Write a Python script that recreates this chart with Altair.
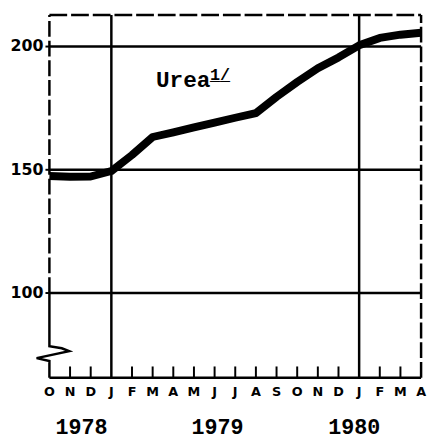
import altair as alt
import pandas as pd

# ---- data ----
month_letters = ["O", "N", "D", "J", "F", "M", "A", "M", "J", "J", "A", "S",
                 "O", "N", "D", "J", "F", "M", "A"]          # Oct 1978 .. Apr 1980
urea_index = [147.5, 147.2, 147.3, 149.5, 156.0, 163.3, 165.2, 167.2, 169.1,
              171.1, 173.0, 179.6, 185.6, 191.2, 195.6, 200.5, 203.5, 204.8, 205.6]
y_ticks = [100, 150, 200]
years = ["1978", "1979", "1980"]
year_pos = [1.55, 8.14, 14.76]          # month index of each year label centre
year_lines = [3, 15]                    # January 1979, January 1980
minor_ticks = [1, 2, 4, 5, 6, 7, 8, 9, 10, 11, 12, 13, 14, 16, 17]

Y_MIN, Y_MAX = 65.6, 212.8
X_MIN, X_MAX = 0, 18

# axis-break glyph on the left axis (data units)
brk_x = [0, 0, 0.6, 0.955, -0.62, 0, 0]
brk_y = [100, 78.4, 77.6, 76.4, 73.6, 72.4, Y_MIN]

label_text = ["Urea"]
label_x = [5.16]
label_y = [183.6]
note_text = ["1/"]
note_x = [7.78]
note_y = [186.4]

xs = alt.Scale(domain=[X_MIN, X_MAX], nice=False, zero=False)
ys = alt.Scale(domain=[Y_MIN, Y_MAX], nice=False, zero=False)


def X(field):
    return alt.X(field, scale=xs, axis=None)


def Y(field):
    return alt.Y(field, scale=ys, axis=None)


df = pd.DataFrame({"m": list(range(len(urea_index))), "v": urea_index})
line = alt.Chart(df).mark_line(color="black", strokeWidth=8, strokeJoin="round",
                               strokeCap="butt").encode(x=X("m:Q"), y=Y("v:Q"))

# horizontal grid lines at the labelled values, with their labels
gdf = pd.DataFrame({"x0": [X_MIN] * 3, "x1": [X_MAX] * 3, "v": y_ticks})
grid = alt.Chart(gdf).mark_rule(color="black", strokeWidth=2.5).encode(
    x=X("x0:Q"), x2="x1:Q", y=Y("v:Q"))
ytick = alt.Chart(gdf).mark_rule(color="black", strokeWidth=2).encode(
    x=alt.value(-4), x2=alt.value(0), y=Y("v:Q"))
ylab = alt.Chart(gdf).mark_text(font="DejaVu Sans", fontWeight="bold",
                                fontSize=16, color="black", align="right",
                                baseline="middle").encode(
    x=alt.value(-6), y=Y("v:Q"), text="v:Q")

# vertical year lines
vdf = pd.DataFrame({"m": year_lines, "y0": [Y_MIN] * 2, "y1": [Y_MAX] * 2})
vlines = alt.Chart(vdf).mark_rule(color="black", strokeWidth=2.5).encode(
    x=X("m:Q"), y=Y("y0:Q"), y2="y1:Q")

# dashed right border
rdf = pd.DataFrame({"m": [X_MAX], "y0": [Y_MIN], "y1": [Y_MAX]})
rborder = alt.Chart(rdf).mark_rule(color="black", strokeWidth=2.5,
                                   strokeDash=[16, 4]).encode(
    x=X("m:Q"), y=Y("y0:Q"), y2="y1:Q")

# dashed top border
tdf = pd.DataFrame({"x0": [X_MIN], "x1": [X_MAX], "v": [Y_MAX]})
tborder = alt.Chart(tdf).mark_rule(color="black", strokeWidth=2.5,
                                   strokeDash=[18, 4]).encode(
    x=X("x0:Q"), x2="x1:Q", y=Y("v:Q"))

# solid bottom axis line
bodf = pd.DataFrame({"x0": [X_MIN], "x1": [X_MAX], "v": [Y_MIN]})
bborder = alt.Chart(bodf).mark_rule(color="black", strokeWidth=2.5).encode(
    x=X("x0:Q"), x2="x1:Q", y=Y("v:Q"))

# dashed left border, upper part
ldf = pd.DataFrame({"m": [X_MIN], "y0": [100], "y1": [Y_MAX]})
lborder = alt.Chart(ldf).mark_rule(color="black", strokeWidth=2.5,
                                   strokeDash=[16, 4]).encode(
    x=X("m:Q"), y=Y("y0:Q"), y2="y1:Q")

# lower left axis with break glyph
bdf = pd.DataFrame({"x": brk_x, "y": brk_y, "o": list(range(len(brk_x)))})
brk = alt.Chart(bdf).mark_line(color="black", strokeWidth=2.5,
                               interpolate="linear").encode(
    x=X("x:Q"), y=Y("y:Q"), order="o:Q")

# inward month ticks
kdf = pd.DataFrame({"m": minor_ticks, "y0": [Y_MIN] * len(minor_ticks),
                    "y1": [Y_MIN + 4.6] * len(minor_ticks)})
ticks = alt.Chart(kdf).mark_rule(color="black", strokeWidth=2).encode(
    x=X("m:Q"), y=Y("y0:Q"), y2="y1:Q")

# month letters under the axis
mdf = pd.DataFrame({"m": list(range(len(month_letters))), "t": month_letters})
mtext = alt.Chart(mdf).mark_text(font="DejaVu Sans", fontWeight="bold",
                                 fontSize=13, color="black", align="center",
                                 baseline="middle").encode(
    x=X("m:Q"), y=alt.value(382), text="t:N")

# year labels below the axis
ydf = pd.DataFrame({"m": year_pos, "t": years})
ytext = alt.Chart(ydf).mark_text(font="Liberation Mono", fontSize=22,
                                 fontWeight="bold", color="black",
                                 baseline="middle", align="center").encode(
    x=X("m:Q"), y=alt.value(418), text="t:N")

# series label
udf = pd.DataFrame({"x": label_x, "y": label_y, "t": label_text})
utext = alt.Chart(udf).mark_text(font="Liberation Mono", fontSize=23,
                                 fontWeight="bold", color="black",
                                 align="left", baseline="alphabetic").encode(
    x=X("x:Q"), y=Y("y:Q"), text="t:N")
ndf = pd.DataFrame({"x": note_x, "y": note_y, "t": note_text,
                    "u": ["_" * len(note_text[0])]})
ntext = alt.Chart(ndf).mark_text(font="Liberation Mono", fontSize=17,
                                 fontWeight="bold", color="black",
                                 align="left", baseline="alphabetic").encode(
    x=X("x:Q"), y=Y("y:Q"), text="t:N")
nunder = alt.Chart(ndf).mark_text(font="Liberation Mono", fontSize=17,
                                  fontWeight="bold", color="black",
                                  align="left", baseline="alphabetic").encode(
    x=X("x:Q"), y=Y("y:Q"), text="u:N")

chart = alt.layer(grid, vlines, rborder, tborder, bborder, lborder, brk, ticks,
                  ytick, line, ylab, mtext, ytext, utext, ntext, nunder).properties(
    width=377, height=368,
    autosize=alt.AutoSizeParams(type="none"),
    padding={"left": 42, "top": 4, "right": 6, "bottom": 62},
    background="white",
).configure_view(stroke=None)

chart.save("out.html", embed_options={"renderer": "svg", "actions": False})
